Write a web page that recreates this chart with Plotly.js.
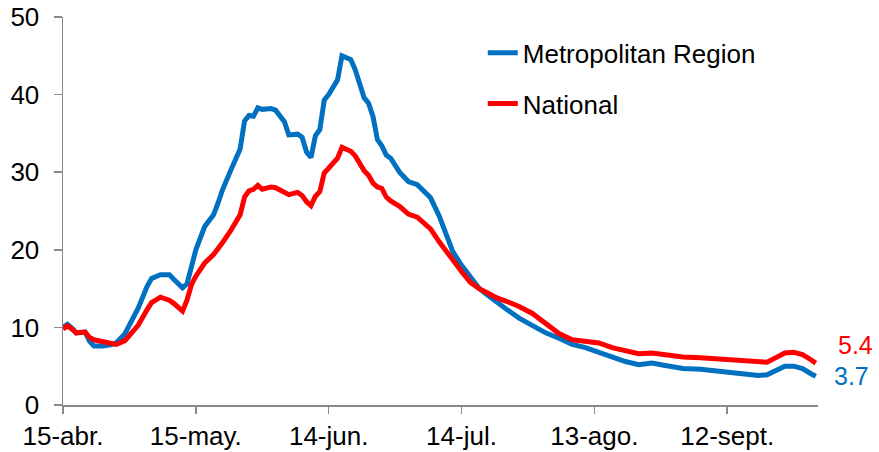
<!DOCTYPE html>
<html>
<head>
<meta charset="utf-8">
<script src="https://cdn.plot.ly/plotly-3.0.1.min.js"></script>
<style>html,body{margin:0;padding:0;background:#fff;}#chart{width:879px;height:452px;}</style>
</head>
<body>
<div id="chart"></div>
<script>
var dates = ["2020-04-15","2020-04-16","2020-04-17","2020-04-18","2020-04-20","2020-04-21","2020-04-22","2020-04-24","2020-04-26","2020-04-27","2020-04-29",
"2020-05-01","2020-05-02","2020-05-04","2020-05-05","2020-05-07","2020-05-09","2020-05-10","2020-05-12","2020-05-13","2020-05-14","2020-05-15","2020-05-17","2020-05-19","2020-05-20","2020-05-21","2020-05-23","2020-05-25","2020-05-26","2020-05-27","2020-05-28","2020-05-29","2020-05-30",
"2020-06-01","2020-06-02","2020-06-04","2020-06-05","2020-06-07","2020-06-08","2020-06-09","2020-06-10","2020-06-11","2020-06-12","2020-06-13","2020-06-14","2020-06-16","2020-06-17","2020-06-19","2020-06-20","2020-06-22","2020-06-23","2020-06-24","2020-06-25","2020-06-26","2020-06-27","2020-06-28","2020-06-30",
"2020-07-02","2020-07-04","2020-07-07","2020-07-09","2020-07-10","2020-07-12","2020-07-14","2020-07-16","2020-07-18","2020-07-20","2020-07-22","2020-07-24","2020-07-27","2020-07-30",
"2020-08-02","2020-08-05","2020-08-08","2020-08-11","2020-08-14","2020-08-17","2020-08-20","2020-08-23","2020-08-26","2020-08-29",
"2020-09-02","2020-09-06","2020-09-10","2020-09-14","2020-09-17","2020-09-19","2020-09-21","2020-09-23","2020-09-25","2020-09-27","2020-09-29","2020-10-01","2020-10-02"];

var metropolitan = [10.0,10.4,9.9,9.3,9.4,8.2,7.6,7.6,7.8,8.0,9.2,
11.2,12.5,15.3,16.3,16.8,16.8,16.2,15.1,15.6,18.0,20.0,23.0,24.5,26.0,27.7,30.4,33.0,36.6,37.3,37.2,38.3,38.1,
38.2,38.0,36.5,34.8,34.9,34.5,32.6,31.9,34.7,35.5,39.3,40.0,41.9,45.0,44.5,43.2,39.6,38.9,37.2,34.2,33.4,32.2,31.8,30.0,
28.8,28.4,26.7,24.3,22.8,19.8,18.0,16.5,15.0,14.1,13.2,12.4,11.2,10.2,
9.3,8.6,7.8,7.4,6.8,6.1,5.6,5.2,5.4,5.1,
4.7,4.6,4.4,4.2,3.9,3.8,3.9,4.5,5.0,5.0,4.7,4.0,3.7];

var national = [9.8,10.2,9.8,9.3,9.4,8.7,8.4,8.2,8.0,7.8,8.3,
9.5,10.3,12.3,13.2,13.9,13.5,13.1,12.1,13.5,15.5,16.6,18.3,19.4,20.1,20.9,22.6,24.5,26.8,27.6,27.8,28.3,27.8,
28.1,28.0,27.4,27.1,27.4,27.0,26.2,25.7,26.9,27.5,29.9,30.5,31.8,33.2,32.7,32.1,30.2,29.6,28.6,28.1,27.9,26.8,26.3,25.6,
24.6,24.2,22.7,21.0,20.2,18.6,17.2,15.8,15.0,14.4,13.8,13.4,12.7,11.8,
10.4,9.2,8.4,8.2,8.0,7.4,7.0,6.6,6.7,6.5,
6.2,6.1,5.9,5.7,5.6,5.5,5.5,6.1,6.7,6.8,6.5,5.8,5.4];

var tickDates = ["2020-04-15","2020-05-15","2020-06-14","2020-07-14","2020-08-13","2020-09-12"];
var tickLabels = ["15-abr.","15-may.","14-jun.","14-jul.","13-ago.","12-sept."];
var seriesNames = ["Metropolitan Region","National"];
var seriesColors = ["#0070C0","#FF0000"];

var FONT = "Liberation Sans, Arial, sans-serif";
var FS = 26;
var lastIdx = dates.length - 1;

var traces = [
  {x: dates, y: metropolitan, name: seriesNames[0], type: "scatter", mode: "lines",
   line: {color: seriesColors[0], width: 5}, legendgroup: "a"},
  {x: dates, y: national, name: seriesNames[1], type: "scatter", mode: "lines",
   line: {color: seriesColors[1], width: 5}, legendgroup: "b"}
];

var layout = {
  width: 879, height: 452,
  margin: {l: 63, r: 61, t: 17, b: 47},
  paper_bgcolor: "#fff", plot_bgcolor: "#fff",
  font: {family: FONT, size: FS, color: "#000"},
  showlegend: true,
  legend: {x: 0.556, y: 0.968, xanchor: "left", yanchor: "top", font: {family: FONT, size: FS, color: "#000"},
           bgcolor: "rgba(0,0,0,0)", tracegroupgap: 14, traceorder: "grouped"},
  xaxis: {type: "date", range: ["2020-04-15", "2020-10-02 12:00"],
          tickvals: tickDates, ticktext: tickLabels, ticks: "outside", ticklen: 7, tickwidth: 1.5, tickcolor: "#898989",
          showline: true, linecolor: "#898989", linewidth: 1.5, showgrid: false, zeroline: false,
          tickfont: {family: FONT, size: FS, color: "#000"}, fixedrange: true},
  yaxis: {range: [0, 50], dtick: 10, ticks: "outside", ticklen: 8, tickwidth: 1.5, tickcolor: "#898989",
          showline: true, linecolor: "#898989", linewidth: 1.5, showgrid: false, zeroline: false,
          tickfont: {family: FONT, size: FS, color: "#000"}, ticklabelstandoff: 9, fixedrange: true},
  annotations: [
    {x: dates[lastIdx], y: national[lastIdx], text: String(national[lastIdx]), showarrow: false,
     xanchor: "left", yanchor: "middle", xshift: 20, yshift: 18, font: {family: FONT, size: 25, color: seriesColors[1]}},
    {x: dates[lastIdx], y: metropolitan[lastIdx], text: String(metropolitan[lastIdx]), showarrow: false,
     xanchor: "left", yanchor: "middle", xshift: 16, yshift: 0, font: {family: FONT, size: 25, color: seriesColors[0]}}
  ]
};

Plotly.newPlot("chart", traces, layout, {displayModeBar: false, staticPlot: true});
</script>
</body>
</html>
